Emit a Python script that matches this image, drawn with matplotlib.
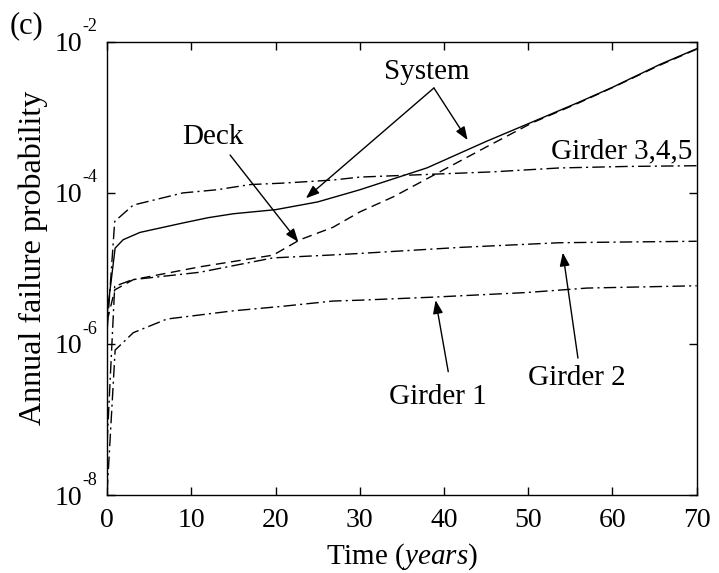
import matplotlib
matplotlib.use("Agg")
import matplotlib.pyplot as plt
from matplotlib.ticker import FixedLocator, FixedFormatter

plt.rcParams["font.family"] = ["Liberation Serif", "DejaVu Serif"]
plt.rcParams["mathtext.fontset"] = "custom"
plt.rcParams["mathtext.rm"] = "Liberation Serif"
plt.rcParams["mathtext.it"] = "Liberation Serif:italic"

# data (years, annual failure probability)
system_t = [0, 0.95, 1.9, 3.9, 9.0, 12, 15, 20, 25, 30, 38, 45, 50.5, 55.8, 60, 65.6, 70]
system_p = [2.5e-6, 1.86e-5, 2.4e-5, 3.0e-5, 4.0e-5, 4.7e-5, 5.3e-5, 6.0e-5, 7.6e-5,
            1.1e-4, 2.15e-4, 4.8e-4, 8.7e-4, 1.55e-3, 2.5e-3, 5.0e-3, 8.1e-3]

deck_t = [0, 0.9, 3.1, 11, 19.7, 22.9, 26.8, 30, 34, 39.5, 45.1, 50.5, 55.8, 60, 65.6, 70]
deck_p = [2.0e-6, 5.2e-6, 7.1e-6, 1.05e-5, 1.5e-5, 2.4e-5, 3.5e-5, 5.6e-5,
          8.9e-5, 1.9e-4, 4.1e-4, 8.5e-4, 1.52e-3, 2.48e-3, 4.9e-3, 8.0e-3]

g345_t = [0, 0.9, 3.1, 9, 13, 17, 21, 26.8, 30, 45.8, 53.7, 61.7, 70]
g345_p = [1.5e-6, 4.2e-5, 6.9e-5, 1.0e-4, 1.1e-4, 1.29e-4, 1.35e-4, 1.48e-4,
          1.62e-4, 1.9e-4, 2.14e-4, 2.24e-4, 2.29e-4]

g2_t = [0, 0.9, 3, 11, 19.7, 26.8, 30, 41.9, 53.7, 61.7, 70]
g2_p = [5e-8, 5.8e-6, 7.1e-6, 8.9e-6, 1.38e-5, 1.51e-5, 1.58e-5, 1.9e-5,
        2.19e-5, 2.24e-5, 2.29e-5]

g1_t = [0, 0.95, 3.1, 7.1, 15, 20.9, 26.8, 30, 38.7, 49.8, 57, 70]
g1_p = [1.1e-8, 8.3e-7, 1.41e-6, 2.14e-6, 2.75e-6, 3.16e-6, 3.7e-6, 3.8e-6,
        4.17e-6, 4.8e-6, 5.5e-6, 5.9e-6]

x_ticks = [0, 10, 20, 30, 40, 50, 60, 70]
y_ticks = [1e-8, 1e-6, 1e-4, 1e-2]
y_exponents = ["-8", "-6", "-4", "-2"]

fig = plt.figure(figsize=(7.19, 5.73), dpi=100)
ax = fig.add_axes([0.149, 0.136, 0.820, 0.791])

lw = 1.0
dashdot = (0, (9, 3, 1.5, 3))
ax.plot(system_t, system_p, color="black", lw=lw, ls="-")
ax.plot(deck_t, deck_p, color="black", lw=lw, ls=(0, (7, 4)))
ax.plot(g345_t, g345_p, color="black", lw=lw, ls=dashdot)
ax.plot(g2_t, g2_p, color="black", lw=lw, ls=dashdot)
ax.plot(g1_t, g1_p, color="black", lw=lw, ls=dashdot)

ax.set_yscale("log")
ax.set_xlim(0, 70)
ax.set_ylim(1e-8, 1e-2)
ax.xaxis.set_major_locator(FixedLocator(x_ticks))
ax.yaxis.set_major_locator(FixedLocator(y_ticks))
ax.yaxis.set_major_formatter(FixedFormatter(["10"] * len(y_ticks)))
ax.yaxis.set_minor_locator(FixedLocator([]))
ax.tick_params(which="both", direction="in", top=True, right=True,
               length=6, width=1, labelsize=20)
ax.tick_params(axis="x", pad=9)
ax.tick_params(axis="y", pad=18)
for s in ax.spines.values():
    s.set_linewidth(1.0)

# exponents drawn as small superscripts next to each "10"
for yv, ex in zip(y_ticks, y_exponents):
    ax.annotate(ex, xy=(0, yv), xycoords=("axes fraction", "data"),
                xytext=(-17.5, 7.5), textcoords="offset points",
                fontsize=13, ha="left", va="baseline", annotation_clip=False)

ax.set_xlabel(r"Time ($\mathit{years}$)", fontsize=21, labelpad=6)
ax.set_ylabel("Annual failure probability", fontsize=23)
ax.yaxis.set_label_coords(-0.1, 0.524)

fig.text(0.014, 0.955, "(c)", fontsize=22, ha="left", va="center")

arrow = dict(arrowstyle="-|>,head_length=0.8,head_width=0.3", color="black",
             lw=1.0, shrinkA=0, shrinkB=0)

ax.text(38.0, 4.0e-3, "System", fontsize=21, ha="center", va="center")
ax.annotate("", xy=(42.8, 5.0e-4), xytext=(38.8, 2.45e-3), arrowprops=arrow)
ax.annotate("", xy=(23.6, 8.5e-5), xytext=(38.8, 2.45e-3), arrowprops=arrow)

ax.text(12.6, 5.5e-4, "Deck", fontsize=21, ha="center", va="center")
ax.annotate("", xy=(22.7, 2.24e-5), xytext=(14.6, 3.17e-4), arrowprops=arrow)

ax.text(69.5, 3.5e-4, "Girder 3,4,5", fontsize=21, ha="right", va="center")

ax.text(55.8, 3.55e-7, "Girder 2", fontsize=21, ha="center", va="center")
ax.annotate("", xy=(54.1, 1.62e-5), xytext=(55.9, 6.5e-7), arrowprops=arrow)

ax.text(39.3, 2.0e-7, "Girder 1", fontsize=21, ha="center", va="center")
ax.annotate("", xy=(39.0, 3.8e-6), xytext=(40.5, 4.3e-7), arrowprops=arrow)

fig.savefig("out.png", dpi=100)
plt.close(fig)
